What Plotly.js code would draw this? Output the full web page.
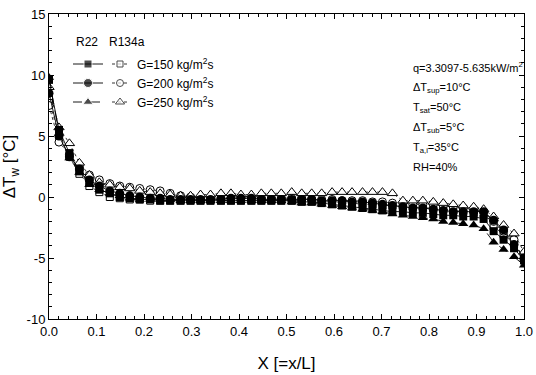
<!DOCTYPE html>
<html>
<head>
<meta charset="utf-8">
<script src="https://cdn.plot.ly/plotly-3.0.1.min.js"></script>
<style>html,body{margin:0;padding:0;background:#fff;}#chart{width:536px;height:375px;}</style>
</head>
<body>
<div id="chart"></div>
<script>
// ---- data ----
const X = [0, 0.021, 0.043, 0.064, 0.085, 0.106, 0.128, 0.149, 0.170, 0.191, 0.213, 0.234, 0.255, 0.277, 0.298, 0.319,
  0.340, 0.362, 0.383, 0.404, 0.426, 0.447, 0.468, 0.489, 0.511, 0.532, 0.553, 0.574, 0.596, 0.617, 0.638, 0.660,
  0.681, 0.702, 0.723, 0.745, 0.766, 0.787, 0.809, 0.830, 0.851, 0.872, 0.894, 0.915, 0.936, 0.957, 0.979, 1.0];

const R22_G150 = [9.6, 5.5, 3.6, 2.1, 1.2, 0.6, 0.3, 0.0, -0.1, -0.2, -0.2, -0.3, -0.3, -0.3, -0.3, -0.3,
  -0.3, -0.3, -0.3, -0.3, -0.3, -0.3, -0.3, -0.3, -0.3, -0.4, -0.4, -0.5, -0.6, -0.7, -0.8, -0.9,
  -1.0, -1.1, -1.2, -1.2, -1.3, -1.3, -1.4, -1.5, -1.5, -1.6, -1.6, -1.8, -2.8, -3.5, -4.2, -5.2];
const R22_G200 = [8.5, 5.0, 3.3, 2.3, 1.4, 0.9, 0.5, 0.3, 0.1, 0.0, -0.1, -0.1, -0.2, -0.2, -0.2, -0.2,
  -0.2, -0.2, -0.1, -0.1, -0.1, -0.2, -0.2, -0.2, -0.2, -0.2, -0.2, -0.3, -0.3, -0.3, -0.4, -0.4,
  -0.5, -0.6, -0.7, -0.8, -0.9, -0.9, -1.0, -1.1, -1.2, -1.2, -1.2, -1.2, -1.9, -2.7, -3.9, -5.0];
const R22_G250 = [9.8, 5.2, 3.2, 2.0, 1.0, 0.6, 0.3, 0.1, -0.1, -0.2, -0.2, -0.2, -0.2, -0.3, -0.3, -0.3,
  -0.3, -0.3, -0.3, -0.3, -0.3, -0.3, -0.3, -0.3, -0.4, -0.5, -0.5, -0.6, -0.7, -0.8, -0.9, -1.0,
  -1.1, -1.2, -1.4, -1.5, -1.6, -1.7, -1.8, -2.0, -2.1, -2.2, -2.3, -2.6, -3.7, -4.3, -4.9, -5.6];
const R134a_G150 = [8.0, 5.0, 3.3, 1.9, 0.9, 0.4, 0.0, -0.1, -0.2, -0.2, -0.3, -0.3, -0.3, -0.3, -0.3, -0.3,
  -0.3, -0.3, -0.3, -0.3, -0.3, -0.3, -0.3, -0.3, -0.3, -0.3, -0.3, -0.4, -0.4, -0.5, -0.5, -0.6,
  -0.6, -0.7, -0.7, -0.8, -0.8, -0.9, -0.9, -1.0, -1.1, -1.2, -1.3, -1.4, -2.4, -3.1, -3.8, -5.0];
const R134a_G200 = [7.5, 4.5, 3.5, 2.5, 1.8, 1.4, 1.1, 0.9, 0.8, 0.7, 0.6, 0.5, 0.3, 0.1, 0.0, -0.1,
  -0.1, -0.1, -0.1, -0.1, -0.1, -0.1, -0.1, -0.1, -0.1, -0.1, -0.2, -0.2, -0.2, -0.3, -0.3, -0.3,
  -0.4, -0.4, -0.5, -0.5, -0.6, -0.6, -0.6, -0.7, -0.8, -0.9, -1.0, -1.2, -2.0, -2.8, -3.5, -5.2];
const R134a_G250 = [9.0, 5.7, 4.4, 2.8, 1.8, 1.2, 1.0, 0.8, 0.7, 0.5, 0.4, 0.3, 0.2, 0.1, 0.1, 0.2,
  0.2, 0.3, 0.3, 0.2, 0.2, 0.3, 0.3, 0.3, 0.4, 0.3, 0.3, 0.3, 0.4, 0.4, 0.4, 0.4,
  0.4, 0.4, 0.3, -0.3, -0.3, -0.3, -0.4, -0.5, -0.6, -0.7, -0.8, -1.0, -1.6, -2.3, -3.0, -4.5];

const xTickVals = [0, 0.1, 0.2, 0.3, 0.4, 0.5, 0.6, 0.7, 0.8, 0.9, 1.0];
const xTickText = ['0.0', '0.1', '0.2', '0.3', '0.4', '0.5', '0.6', '0.7', '0.8', '0.9', '1.0'];
const yTickVals = [-10, -5, 0, 5, 10, 15];
const yTickText = ['-10', '-5', '0', '5', '10', '15'];

const legendLabels = ['G=150 kg/m<sup>2</sup>s', 'G=200 kg/m<sup>2</sup>s', 'G=250 kg/m<sup>2</sup>s'];
const infoLines = ['q=3.3097-5.635kW/m<sup>2</sup>', '\u0394T<sub>sup</sub>=10\u00B0C', 'T<sub>sat</sub>=50\u00B0C',
  '\u0394T<sub>sub</sub>=5\u00B0C', 'T<sub>a,i</sub>=35\u00B0C', 'RH=40%'];

// ---- styling ----
const FONT = 'Liberation Sans, Arial, sans-serif';
const filled = [
  {y: R22_G150, sym: 'square', size: 8, dash: 'solid'},
  {y: R22_G200, sym: 'circle', size: 9, dash: 'solid'},
  {y: R22_G250, sym: 'triangle-up', size: 9, dash: 'dash'}
];
const open = [
  {y: R134a_G150, sym: 'square', size: 7},
  {y: R134a_G200, sym: 'circle', size: 8},
  {y: R134a_G250, sym: 'triangle-up', size: 9}
];

const traces = [];
open.forEach(s => traces.push({
  x: X, y: s.y, type: 'scatter', mode: 'lines+markers',
  line: {color: '#000', width: 0.8, dash: 'dot'},
  marker: {symbol: s.sym, size: s.size, color: '#fff', line: {color: '#000', width: 1}},
  showlegend: false, hoverinfo: 'skip'
}));
filled.forEach(s => traces.push({
  x: X, y: s.y, type: 'scatter', mode: 'lines+markers',
  line: {color: '#000', width: 0.9, dash: s.dash},
  marker: {symbol: s.sym, size: s.size, color: '#000'},
  showlegend: false, hoverinfo: 'skip'
}));

// legend keys drawn on a hidden pixel-like axis (x2,y2): x in px from plot left, y in px from plot top
const legRowsY = [50, 69, 88];
filled.forEach((s, i) => traces.push({
  x: [24, 39, 54], y: [legRowsY[i], legRowsY[i], legRowsY[i]], xaxis: 'x2', yaxis: 'y2',
  type: 'scatter', mode: 'lines+markers',
  line: {color: '#000', width: 0.9, dash: s.dash},
  marker: {symbol: s.sym, size: [0, s.size, 0], color: '#000'},
  showlegend: false, hoverinfo: 'skip'
}));
open.forEach((s, i) => traces.push({
  x: [63, 71, 79], y: [legRowsY[i], legRowsY[i], legRowsY[i]], xaxis: 'x2', yaxis: 'y2',
  type: 'scatter', mode: 'lines+markers',
  line: {color: '#000', width: 0.8, dash: 'dot'},
  marker: {symbol: s.sym, size: [0, s.size - 1, 0], color: '#fff', line: {color: '#000', width: 1}},
  showlegend: false, hoverinfo: 'skip'
}));

const annotations = [];
const tf = {family: FONT, size: 12, color: '#000'};
const tfi = {family: FONT, size: 11, color: '#000'};
annotations.push({xref: 'x2', yref: 'y2', x: 25, y: 28, text: 'R22', showarrow: false, xanchor: 'left', yanchor: 'middle', font: tf});
annotations.push({xref: 'x2', yref: 'y2', x: 58, y: 28, text: 'R134a', showarrow: false, xanchor: 'left', yanchor: 'middle', font: tf});
legendLabels.forEach((t, i) => annotations.push({xref: 'x2', yref: 'y2', x: 86, y: legRowsY[i], text: t, showarrow: false,
  xanchor: 'left', yanchor: 'middle', font: tf}));
const infoY = [53, 74, 94, 114, 134, 153];
infoLines.forEach((t, i) => annotations.push({xref: 'x2', yref: 'y2', x: 362, y: infoY[i], text: t, showarrow: false,
  xanchor: 'left', yanchor: 'middle', font: tfi}));

const layout = {
  width: 536, height: 375,
  margin: {l: 49, r: 12, t: 14, b: 56, pad: 0},
  paper_bgcolor: '#fff', plot_bgcolor: '#fff',
  showlegend: false,
  font: {family: FONT, size: 12, color: '#000'},
  xaxis: {
    range: [0, 1], tickvals: xTickVals, ticktext: xTickText,
    ticks: 'inside', ticklen: 5, tickwidth: 1, tickcolor: '#000',
    minor: {dtick: 0.02, ticks: 'inside', ticklen: 3, tickcolor: '#000', showgrid: false},
    showline: true, linecolor: '#000', linewidth: 1, mirror: 'ticks',
    showgrid: false, zeroline: false,
    tickfont: {family: FONT, size: 13, color: '#000'},
    title: {text: 'X [=x/L]', font: {family: FONT, size: 17, color: '#000'}, standoff: 19}
  },
  yaxis: {
    range: [-10, 15], tickvals: yTickVals, ticktext: yTickText,
    ticks: 'inside', ticklen: 5, tickwidth: 1, tickcolor: '#000',
    minor: {dtick: 1, ticks: 'inside', ticklen: 3, tickcolor: '#000', showgrid: false},
    showline: true, linecolor: '#000', linewidth: 1, mirror: 'ticks',
    showgrid: false, zeroline: false,
    tickfont: {family: FONT, size: 13, color: '#000'},
    title: {text: '\u0394T<sub>w</sub> [\u00B0C]', font: {family: FONT, size: 17, color: '#000'}, standoff: 6}
  },
  xaxis2: {overlaying: 'x', range: [0, 475], visible: false, fixedrange: true},
  yaxis2: {overlaying: 'y', range: [305, 0], visible: false, fixedrange: true},
  annotations: annotations
};

Plotly.newPlot('chart', traces, layout, {displayModeBar: false, staticPlot: true});
</script>
</body>
</html>
